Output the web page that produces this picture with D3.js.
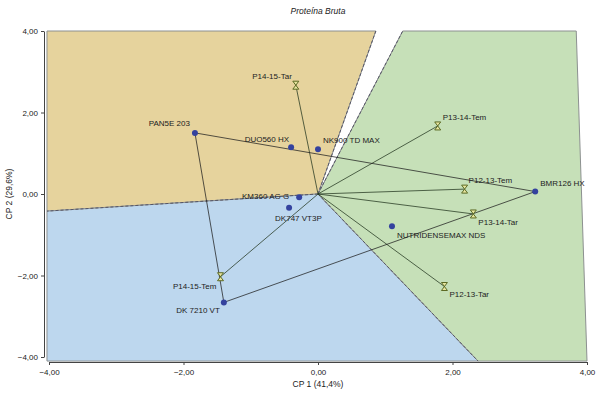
<!DOCTYPE html>
<html>
<head>
<meta charset="utf-8">
<script src="https://cdn.jsdelivr.net/npm/d3@7"></script>
<style>
  body { margin: 0; background: #fff; }
  svg text { font-family: "Liberation Sans", Arial, sans-serif; fill: #222; }
</style>
</head>
<body>
<div id="chart"></div>
<script>
// genotipos (pontos)
const genotypes = ["PAN5E 203", "DUO560 HX", "NK900 TD MAX", "KM360 AG G", "DK747 VT3P", "DK 7210 VT", "NUTRIDENSEMAX NDS", "BMR126 HX"];
const genoCP1 = [-1.83, -0.40, 0.00, -0.28, -0.43, -1.40, 1.10, 3.23];
const genoCP2 = [1.50, 1.15, 1.10, -0.08, -0.34, -2.66, -0.79, 0.06];

// ambientes (vetores)
const environments = ["P14-15-Tar", "P13-14-Tem", "P12-13-Tem", "P13-14-Tar", "P12-13-Tar", "P14-15-Tem"];
const envCP1 = [-0.33, 1.78, 2.18, 2.31, 1.88, -1.45];
const envCP2 = [2.67, 1.67, 0.12, -0.49, -2.27, -2.03];

// poligono (vertices) e setores
const hull = ["PAN5E 203", "BMR126 HX", "DK 7210 VT"];
const sectorOrange = [[-4.03, 4], [0.86, 4], [0, 0], [-4.03, -0.42]];
const sectorGreen = [[1.26, 4], [3.84, 4], [4, -4.1], [2.38, -4.1], [0, 0]];
const sectorBlue = [[-4.03, -0.42], [0, 0], [2.38, -4.1], [-4.03, -4.1]];

const xTicks = [-4, -2, 0, 2, 4];
const yTicks = [-4, -2, 0, 2, 4];

// posicao dos rotulos: [anchor, dx, dy]
const labelPos = {
    "PAN5E 203": ["end", -5, -7],
    "DUO560 HX": ["end", -2, -5],
    "NK900 TD MAX": ["start", 5, -6],
    "KM360 AG G": ["end", -10, 2],
    "DK747 VT3P": ["start", -14, 13],
    "DK 7210 VT": ["end", -4, 11],
    "NUTRIDENSEMAX NDS": ["start", 5, 12],
    "BMR126 HX": ["start", 5, -6],
    "P14-15-Tar": ["end", -4, -6],
    "P13-14-Tem": ["start", 5, -6],
    "P12-13-Tem": ["start", 4, -6],
    "P13-14-Tar": ["start", 5, 11],
    "P12-13-Tar": ["start", 5, 10],
    "P14-15-Tem": ["end", -4, 12]
};

const width = 600, height = 393;
const x = d3.scaleLinear().domain([-4, 4]).range([49, 587]);
const y = d3.scaleLinear().domain([-4, 4]).range([357, 31]);
const fmt = d => d3.format(".2f")(d).replace(".", ",");

const svg = d3.select("#chart").append("svg")
    .attr("width", width)
    .attr("height", height);

// setores
const line = d3.line().x(d => x(d[0])).y(d => y(d[1]));
[[sectorOrange, "#e6d39d"], [sectorBlue, "#bdd7ee"], [sectorGreen, "#c6e0b8"]].forEach(([pts, col]) => {
    svg.append("path")
        .attr("d", line(pts) + "Z")
        .attr("fill", col)
        .attr("stroke", "#8c9090")
        .attr("stroke-width", 1);
});

// limites tracejados entre setores
[[0.86, 4], [1.26, 4], [2.38, -4.1], [-4.03, -0.42]].forEach(p => {
    svg.append("line")
        .attr("x1", x(0)).attr("y1", y(0))
        .attr("x2", x(p[0])).attr("y2", y(p[1]))
        .attr("stroke", "#556")
        .attr("stroke-width", 1)
        .attr("stroke-dasharray", "3,2");
});

// vetores dos ambientes
environments.forEach((e, i) => {
    svg.append("line")
        .attr("x1", x(0)).attr("y1", y(0))
        .attr("x2", x(envCP1[i])).attr("y2", y(envCP2[i]))
        .attr("stroke", "#23351f")
        .attr("stroke-opacity", 0.75)
        .attr("stroke-width", 1);
});

// poligono
const hullPts = hull.map(n => {
    const i = genotypes.indexOf(n);
    return [genoCP1[i], genoCP2[i]];
});
svg.append("path")
    .attr("d", line(hullPts) + "Z")
    .attr("fill", "none")
    .attr("stroke", "#1f1f1f")
    .attr("stroke-opacity", 0.75)
    .attr("stroke-width", 1);

// eixos
const xAxis = svg.append("g")
    .attr("transform", "translate(0,362)")
    .call(d3.axisBottom(x).tickValues(xTicks).tickFormat(fmt).tickSize(3).tickSizeOuter(0));
const yAxis = svg.append("g")
    .attr("transform", "translate(44,0)")
    .call(d3.axisLeft(y).tickValues(yTicks).tickFormat(fmt).tickSize(3).tickSizeOuter(0));
[xAxis, yAxis].forEach(g => {
    g.select(".domain").attr("stroke", "#444");
    g.selectAll(".tick line").attr("stroke", "#444");
    g.selectAll(".tick text").attr("font-size", "8px").attr("fill", "#222");
});
xAxis.selectAll(".tick text").attr("dy", "0.9em");

// marcadores dos ambientes (ampulheta)
const hourglass = "M-3,-4H3L-3,4H3Z";
environments.forEach((e, i) => {
    svg.append("path")
        .attr("d", hourglass)
        .attr("transform", `translate(${x(envCP1[i])},${y(envCP2[i])})`)
        .attr("fill", "#e8e6a0")
        .attr("stroke", "#5c6a24")
        .attr("stroke-width", 1);
});

// pontos dos genotipos
genotypes.forEach((g, i) => {
    svg.append("circle")
        .attr("cx", x(genoCP1[i]))
        .attr("cy", y(genoCP2[i]))
        .attr("r", 3)
        .attr("fill", "#34429e");
});

// rotulos
const addLabel = (name, px, py) => {
    const [anchor, dx, dy] = labelPos[name];
    svg.append("text")
        .attr("x", px + dx)
        .attr("y", py + dy)
        .attr("text-anchor", anchor)
        .attr("font-size", "8px")
        .text(name);
};
genotypes.forEach((g, i) => addLabel(g, x(genoCP1[i]), y(genoCP2[i])));
environments.forEach((e, i) => addLabel(e, x(envCP1[i]), y(envCP2[i])));

// titulo e rotulos dos eixos
svg.append("text")
    .attr("x", x(0)).attr("y", 14)
    .attr("text-anchor", "middle")
    .attr("font-size", "8.5px")
    .attr("font-style", "italic")
    .text("Proteína Bruta");
svg.append("text")
    .attr("x", x(0)).attr("y", 387)
    .attr("text-anchor", "middle")
    .attr("font-size", "8.5px")
    .text("CP 1 (41,4%)");
svg.append("text")
    .attr("transform", `translate(12,${y(0)}) rotate(-90)`)
    .attr("text-anchor", "middle")
    .attr("font-size", "8.5px")
    .text("CP 2 (29,6%)");
</script>
</body>
</html>
